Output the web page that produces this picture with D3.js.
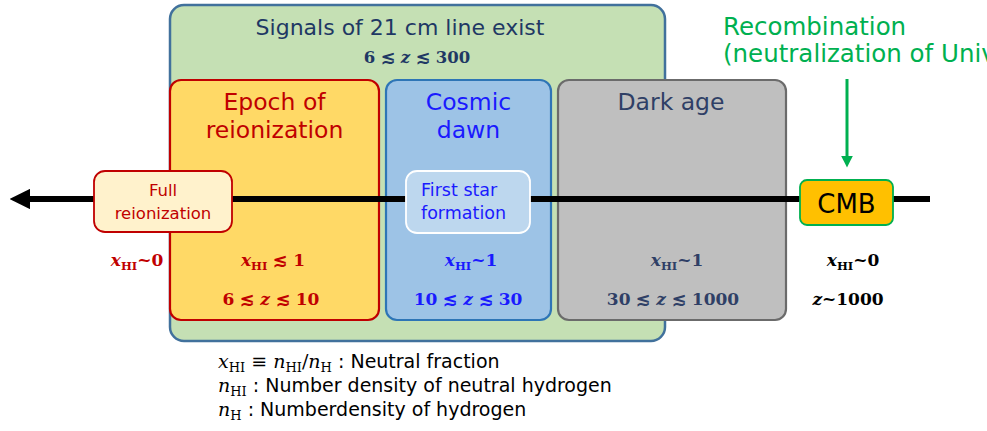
<!DOCTYPE html>
<html>
<head>
<meta charset="utf-8">
<script src="https://cdn.jsdelivr.net/npm/d3@7"></script>
<style>
  body { margin: 0; background: #fff; }
  svg { display: block; }
</style>
</head>
<body>
<svg id="diagram" width="987" height="431"></svg>
<script>
var width = 987;
var height = 431;

// epochs along the timeline, from late (left) to early (right)
var epochNames = [["Epoch of", "reionization"], ["Cosmic", "dawn"], ["Dark age"]];
var epochFill = ["#ffd966", "#9dc3e6", "#bfbfbf"];
var epochStroke = ["#c00000", "#2e75b6", "#6b6b6b"];
var epochText = ["#c00000", "#1a1aff", "#2f3f66"];
var epochXHI = [["x", "HI", " ≲ 1"], ["x", "HI", "~1"], ["x", "HI", "~1"]];
var epochZ = ["6 ≲ z ≲ 10", "10 ≲ z ≲ 30", "30 ≲ z ≲ 1000"];

var signalTitle = "Signals of 21 cm line exist";
var signalRange = "6 ≲ z ≲ 300";

var eventNames = [["Full", "reionization"], ["First star", "formation"], ["CMB"]];
var recombLines = ["Recombination", "(neutralization of Universe)"];

var legendLines = [
  [["x", "HI"], " ≡ ", ["n", "HI"], "/", ["n", "H"], " : Neutral fraction"],
  [["n", "HI"], " : Number density of neutral hydrogen"],
  [["n", "H"], "  : Numberdensity of hydrogen"]
];

var sans = "'DejaVu Sans', sans-serif";
var serif = "'DejaVu Serif', serif";

var svg = d3.select("#diagram");

// horizontal layout of the three epoch boxes
var boxX = [170, 386, 558];
var boxW = [209, 165, 228];

// big green "21 cm" region
svg.append("rect")
  .attr("x", 170).attr("y", 5).attr("width", 495).attr("height", 336)
  .attr("rx", 14)
  .attr("fill", "#c5e0b4")
  .attr("stroke", "#41719c")
  .attr("stroke-width", 2.5);

svg.append("text")
  .attr("x", 400).attr("y", 35)
  .attr("text-anchor", "middle")
  .attr("font-family", sans).attr("font-size", 22)
  .attr("fill", "#1f3864")
  .text(signalTitle);

function mathText(sel, str) {
  // bold serif, with z italic
  str.split(/(z)/).forEach(function(p) {
    if (p === "") return;
    sel.append("tspan").attr("font-style", p === "z" ? "italic" : "normal").text(p);
  });
}

mathText(svg.append("text")
  .attr("x", 417).attr("y", 63)
  .attr("text-anchor", "middle")
  .attr("font-family", serif).attr("font-weight", "bold").attr("font-size", 16.5)
  .attr("fill", "#1f3864"), signalRange);

// epoch boxes
var boxes = svg.selectAll("g.epoch")
  .data(epochNames)
  .enter()
  .append("g")
    .attr("class", "epoch");

boxes.append("rect")
  .attr("x", function(d, i) { return boxX[i]; })
  .attr("y", 80)
  .attr("width", function(d, i) { return boxW[i]; })
  .attr("height", 240)
  .attr("rx", 11)
  .attr("fill", function(d, i) { return epochFill[i]; })
  .attr("stroke", function(d, i) { return epochStroke[i]; })
  .attr("stroke-width", 2.2);

boxes.each(function(d, i) {
  var g = d3.select(this);
  var cx = boxX[i] + boxW[i] / 2 + (i === 2 ? -1 : 0);
  var t = g.append("text")
    .attr("x", cx)
    .attr("y", 110)
    .attr("text-anchor", "middle")
    .attr("font-family", sans).attr("font-size", 23.5)
    .attr("fill", epochText[i]);
  d.forEach(function(line, j) {
    t.append("tspan").attr("x", cx).attr("dy", j === 0 ? 0 : 28).text(line);
  });
});

// timeline arrow
svg.append("defs").append("marker")
  .attr("id", "head")
  .attr("viewBox", "0 0 10 10")
  .attr("refX", 2).attr("refY", 5)
  .attr("markerWidth", 3.4).attr("markerHeight", 3.4)
  .attr("orient", "auto-start-reverse")
  .append("path")
    .attr("d", "M0,0 L10,5 L0,10 Z")
    .attr("fill", "#000");

svg.append("line")
  .attr("x1", 930).attr("y1", 199)
  .attr("x2", 26).attr("y2", 199)
  .attr("stroke", "#000")
  .attr("stroke-width", 6)
  .attr("marker-end", "url(#head)");

// event boxes on the timeline
var eventBox = [
  { x: 94, y: 171, w: 138, h: 61, fill: "#fff2cc", stroke: "#c00000", color: "#c00000", size: 16.5, anchor: "middle" },
  { x: 406, y: 171, w: 124, h: 62, fill: "#bdd7ee", stroke: "#ffffff", color: "#1a1aff", size: 17.5, anchor: "start" },
  { x: 800, y: 180, w: 93, h: 45, fill: "#ffc000", stroke: "#00b050", color: "#000000", size: 26, anchor: "middle" }
];

var events = svg.selectAll("g.event")
  .data(eventNames)
  .enter()
  .append("g")
    .attr("class", "event");

events.append("rect")
  .attr("x", function(d, i) { return eventBox[i].x; })
  .attr("y", function(d, i) { return eventBox[i].y; })
  .attr("width", function(d, i) { return eventBox[i].w; })
  .attr("height", function(d, i) { return eventBox[i].h; })
  .attr("rx", function(d, i) { return i === 2 ? 7 : 11; })
  .attr("fill", function(d, i) { return eventBox[i].fill; })
  .attr("stroke", function(d, i) { return eventBox[i].stroke; })
  .attr("stroke-width", 1.8);

events.each(function(d, i) {
  var b = eventBox[i];
  var tx = b.anchor === "middle" ? b.x + b.w / 2 : b.x + 15;
  var t = d3.select(this).append("text")
    .attr("text-anchor", b.anchor)
    .attr("font-family", sans).attr("font-size", b.size)
    .attr("fill", b.color);
  if (d.length === 1) {
    t.attr("x", tx).attr("y", b.y + 33).text(d[0]);
  } else {
    t.attr("y", b.y + 25);
    d.forEach(function(line, j) {
      t.append("tspan").attr("x", tx).attr("dy", j === 0 ? 0 : 23).text(line);
    });
  }
});

// recombination arrow
svg.append("defs").append("marker")
  .attr("id", "ghead")
  .attr("viewBox", "0 0 10 10")
  .attr("refX", 2).attr("refY", 5)
  .attr("markerWidth", 4).attr("markerHeight", 4)
  .attr("orient", "auto")
  .append("path")
    .attr("d", "M0,0 L10,5 L0,10 Z")
    .attr("fill", "#00b050");

svg.append("line")
  .attr("x1", 847).attr("y1", 79)
  .attr("x2", 847).attr("y2", 158)
  .attr("stroke", "#00b050")
  .attr("stroke-width", 3)
  .attr("marker-end", "url(#ghead)");

var rt = svg.append("text")
  .attr("font-family", sans).attr("font-size", 24.5)
  .attr("fill", "#00b050");
recombLines.forEach(function(line, j) {
  rt.append("tspan").attr("x", 723).attr("y", 35 + j * 27).text(line);
});

// x_HI and z labels under the timeline
function xhiLabel(cx, y, parts, color) {
  var t = svg.append("text")
    .attr("x", cx).attr("y", y)
    .attr("text-anchor", "middle")
    .attr("font-family", serif).attr("font-weight", "bold").attr("font-size", 17)
    .attr("fill", color);
  t.append("tspan").attr("font-style", "italic").text(parts[0]);
  t.append("tspan").attr("font-size", 11.5).attr("dy", 4).text(parts[1]);
  t.append("tspan").attr("dy", -4).text(parts[2]);
}

var labelX = [273, 471, 677];
var zX = [271, 468, 673];
epochXHI.forEach(function(p, i) {
  xhiLabel(labelX[i], 266, p, epochText[i]);
  mathText(svg.append("text")
    .attr("x", zX[i]).attr("y", 305)
    .attr("text-anchor", "middle")
    .attr("font-family", serif).attr("font-weight", "bold").attr("font-size", 17)
    .attr("fill", epochText[i]), epochZ[i]);
});

xhiLabel(137, 266, ["x", "HI", "~0"], "#c00000");
xhiLabel(853, 266, ["x", "HI", "~0"], "#000000");
mathText(svg.append("text")
  .attr("x", 848).attr("y", 305)
  .attr("text-anchor", "middle")
  .attr("font-family", serif).attr("font-weight", "bold").attr("font-size", 17)
  .attr("fill", "#000"), "z~1000");

// legend text
legendLines.forEach(function(parts, j) {
  var t = svg.append("text")
    .attr("x", 218).attr("y", 368 + j * 24)
    .attr("font-size", 19)
    .attr("fill", "#000");
  var shift = 0;
  parts.forEach(function(p) {
    var s;
    if (typeof p === "string") {
      var isMath = p === " ≡ " || p === "/";
      s = t.append("tspan")
        .attr("font-family", isMath ? serif : sans)
        .attr("font-size", isMath ? 19 : 19)
        .text(p);
      if (shift) { s.attr("dy", -shift); shift = 0; }
    } else {
      s = t.append("tspan").attr("font-family", serif).attr("font-style", "italic").text(p[0]);
      if (shift) { s.attr("dy", -shift); shift = 0; }
      t.append("tspan").attr("font-family", serif).attr("font-size", 13).attr("dy", 4).text(p[1]);
      shift = 4;
    }
  });
});
</script>
</body>
</html>
